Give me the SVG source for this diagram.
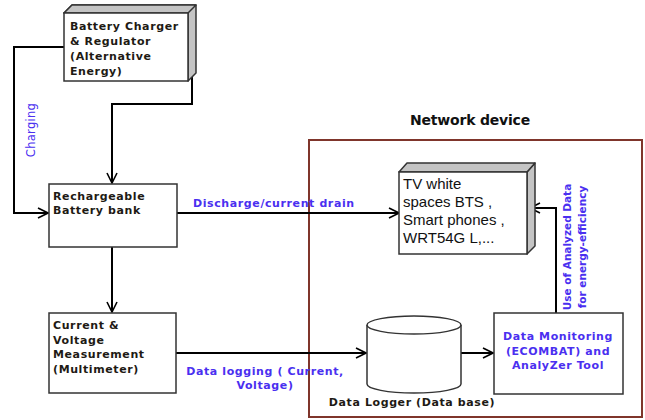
<svg xmlns="http://www.w3.org/2000/svg" width="645" height="420" viewBox="0 0 645 420">
  <style>
    .box { fill: #ffffff; stroke: #333333; stroke-width: 1.5; }
    .side { fill: #c4c4c4; stroke: #333333; stroke-width: 1.5; stroke-linejoin: round; }
    .conn { fill: none; stroke: #000000; stroke-width: 2; }
    .lbl { font-family: "DejaVu Sans", Verdana, sans-serif; font-weight: bold; font-size: 11px; letter-spacing: 0.6px; fill: #1e1a14; }
    .blue { font-family: "DejaVu Sans", Verdana, sans-serif; font-weight: bold; font-size: 11px; letter-spacing: 0.6px; fill: #4a2ff0; }
    .rot { font-family: "DejaVu Sans", Verdana, sans-serif; font-weight: bold; font-size: 10.5px; fill: #4a2ff0; }
    .dev { font-family: "Liberation Sans", Arial, sans-serif; font-size: 15px; fill: #111111; }
  </style>
  <defs>
    <marker id="open" viewBox="0 0 12 12" refX="11" refY="6" markerWidth="12" markerHeight="12" markerUnits="userSpaceOnUse" orient="auto">
      <path d="M1,1 L11,6 L1,11" fill="none" stroke="#000" stroke-width="1.6"/>
    </marker>
  </defs>

  <rect width="645" height="420" fill="#ffffff"/>

  <!-- network device enclosure -->
  <g id="network">
    <rect x="309" y="140" width="333" height="277" fill="none" stroke="#7f352b" stroke-width="2"/>
    <text x="410" y="125" font-family="DejaVu Sans, Verdana, sans-serif" font-weight="bold" font-size="14" letter-spacing="-0.2" fill="#111">Network device</text>
  </g>

  <!-- connectors -->
  <g id="connectors">
    <path class="conn" d="M64,47 H14 V213 H48" marker-end="url(#open)"/>
    <path class="conn" d="M192,42 V104 H112 V183" marker-end="url(#open)"/>
    <path class="conn" d="M112,247 V312" marker-end="url(#open)"/>
    <path class="conn" d="M177,213 H399" marker-end="url(#open)"/>
    <path class="conn" d="M176,353 H366" marker-end="url(#open)"/>
    <path class="conn" d="M461,353 H493" marker-end="url(#open)"/>
    <path class="conn" d="M556,313 V208 H530" marker-end="url(#open)"/>
    <text transform="translate(35,130) rotate(-90)" text-anchor="middle" font-family="DejaVu Sans, Verdana, sans-serif" font-size="11.5" letter-spacing="0.3" fill="#4a2ff0">Charging</text>
    <text class="blue" x="193" y="207">Discharge/current drain</text>
    <text class="blue" x="265" y="375" text-anchor="middle">Data logging ( Current,</text>
    <text class="blue" x="265" y="389" text-anchor="middle">Voltage)</text>
    <text class="rot" transform="translate(571,247) rotate(-90)" text-anchor="middle">Use of Analyzed Data</text>
    <text class="rot" transform="translate(586,247) rotate(-90)" text-anchor="middle">for energy-efficiency</text>
  </g>

  <!-- charger with 3D bevel -->
  <g id="charger">
    <path class="side" d="M64,13 L72,5 H196 V73 L188,81 V13 Z"/>
    <path class="side" d="M64,13 L72,5 H196 L188,13 Z"/>
    <rect class="box" x="64" y="13" width="124" height="68"/>
    <text class="lbl" x="70" y="30">Battery Charger</text>
    <text class="lbl" x="70" y="45">&amp; Regulator</text>
    <text class="lbl" x="70" y="60">(Alternative</text>
    <text class="lbl" x="70" y="75">Energy)</text>
  </g>

  <g id="battery">
    <rect class="box" x="49" y="184" width="128" height="63"/>
    <text class="lbl" x="53" y="200">Rechargeable</text>
    <text class="lbl" x="53" y="214">Battery bank</text>
  </g>

  <g id="meter">
    <rect class="box" x="49" y="313" width="127" height="80"/>
    <text class="lbl" x="53" y="329">Current &amp;</text>
    <text class="lbl" x="53" y="344">Voltage</text>
    <text class="lbl" x="53" y="358">Measurement</text>
    <text class="lbl" x="53" y="373">(Multimeter)</text>
  </g>

  <g id="device">
    <path class="side" d="M527,172 L535,163 V246 L527,254 Z"/>
    <path class="side" d="M399,172 L407,163 H535 L527,172 Z"/>
    <rect class="box" x="399" y="172" width="128" height="82"/>
    <text class="dev" x="403" y="189">TV white</text>
    <text class="dev" x="403" y="207">spaces BTS ,</text>
    <text class="dev" x="403" y="225">Smart phones ,</text>
    <text class="dev" x="403" y="243">WRT54G L,...</text>
  </g>

  <g id="logger">
    <path class="box" d="M367,325 V384 A47,9 0 0 0 461,384 V325"/>
    <ellipse class="box" cx="414" cy="325" rx="47" ry="9"/>
    <text class="lbl" x="412" y="406" text-anchor="middle">Data Logger (Data base)</text>
  </g>

  <g id="monitor">
    <rect class="box" x="494" y="313" width="129" height="81"/>
    <text class="blue" x="558" y="340" text-anchor="middle">Data Monitoring</text>
    <text class="blue" x="558" y="355" text-anchor="middle">(ECOMBAT) and</text>
    <text class="blue" x="558" y="369" text-anchor="middle">AnalyZer Tool</text>
  </g>
</svg>
